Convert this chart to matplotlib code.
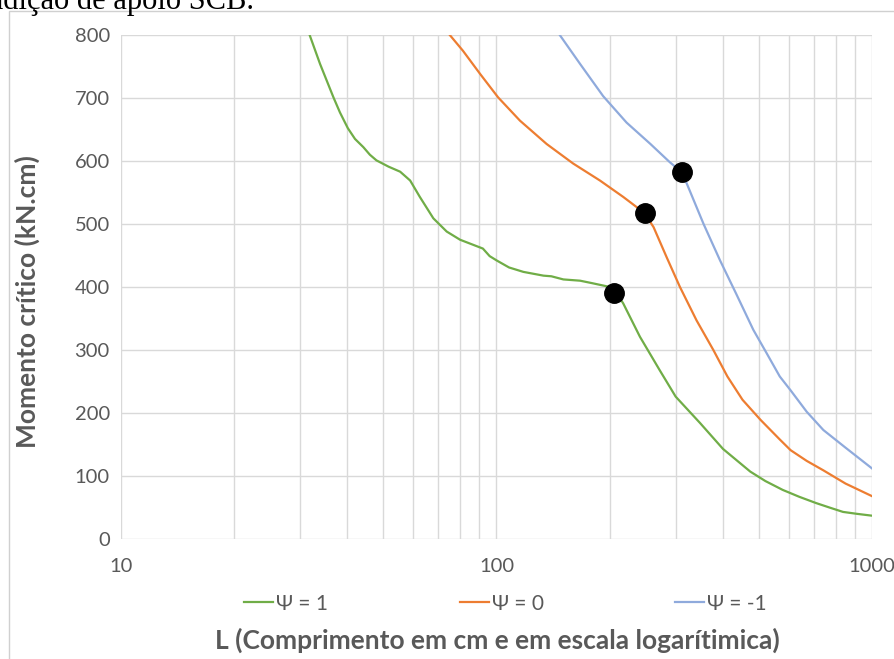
import matplotlib
matplotlib.use('Agg')
import matplotlib.pyplot as plt
from matplotlib.patches import Rectangle

plt.rcParams['font.family'] = ['Lato', 'DejaVu Sans']

# curves: span L (cm) and critical moment (kN.cm)
L_psi1 = [31.8, 33.9, 36.8, 38.3, 40.2, 42.0, 44.2, 46.0, 47.9, 51.6, 55.4, 58.9, 62.5, 67.9, 73.7,
          80.0, 88.4, 92, 95.9, 100.2, 108, 117.9, 133.4, 140, 150.7, 167, 180, 197, 206,
          217.5, 241, 272, 300, 348.5, 401, 474, 520, 578, 640, 710, 770, 837, 910, 1000]
M_psi1 = [800, 754, 701, 677, 652, 635, 622, 610, 601, 591, 583, 569, 543, 509, 488,
          475, 465, 461, 449, 442, 431, 424, 418, 417, 412, 410, 406, 401, 396,
          374, 321, 268, 226, 184, 143, 107, 92, 78, 67, 57, 50, 43, 40, 37]

L_psi0 = [75.1, 81.4, 90.5, 101, 115.5, 136, 160, 188.6, 217.5, 236, 248,
          262, 284, 308, 341, 378, 412, 452, 505, 568, 607, 670, 742, 850, 1000]
M_psi0 = [800, 775, 738, 701, 664, 627, 596, 569, 543, 527, 517,
          495, 447, 400, 347, 300, 258, 221, 189, 158, 141, 124, 109, 88, 68]

L_psi_m1 = [147.4, 167, 192.3, 222, 257, 289.5, 312, 327, 356, 394, 435, 483, 524,
            568, 607, 670, 742, 850, 1000]
M_psi_m1 = [800, 754, 703, 661, 627, 598, 582, 553, 500, 442, 389, 332, 295,
            258, 236, 202, 173, 145, 112]

# critical points
crit_L = [206, 248, 312]
crit_M = [391, 518, 582]

series_names = ['\u03a8 = 1', '\u03a8 = 0', '\u03a8 = -1']
colors = ['#70AD47', '#ED7D31', '#8FAADC']

fig = plt.figure(figsize=(8.94, 6.59), dpi=100)
ax = fig.add_axes([0.1353, 0.1821, 0.8401, 0.7648])

ax.plot(L_psi1, M_psi1, color=colors[0], lw=1.6, label=series_names[0])
ax.plot(L_psi0, M_psi0, color=colors[1], lw=1.6, label=series_names[1])
ax.plot(L_psi_m1, M_psi_m1, color=colors[2], lw=1.6, label=series_names[2])
ax.plot(crit_L, crit_M, 'o', color='black', ms=14, ls='none', zorder=5)

ax.set_xscale('log')
ax.set_xlim(10, 1000)
ax.set_ylim(0, 800)
ax.set_yticks(range(0, 801, 100))
ax.set_xticks([10, 100, 1000])
ax.set_xticklabels(['10', '100', '1000'])
ax.grid(True, which='major', color='#d9d9d9', lw=1.0)
ax.grid(True, which='minor', axis='x', color='#d9d9d9', lw=1.0)
ax.set_axisbelow(True)
for s in ax.spines.values():
    s.set_visible(False)
ax.tick_params(which='both', length=0, labelsize=14.5, colors='#595959', pad=8)
ax.tick_params(axis='x', pad=14)

ax.set_ylabel('Momento crítico (kN.cm)', fontsize=19, fontweight='bold', color='#595959')
ax.yaxis.label.set_va('center')
ax.yaxis.set_label_coords(-0.124, 0.471)
fig.text(0.5565, 0.029, 'L (Comprimento em cm e em escala logarítimica)', fontsize=19,
         fontweight='bold', color='#595959', ha='center', va='center')

leg = ax.legend(loc='center', bbox_to_anchor=(0.512, -0.128), ncol=3, frameon=False,
                fontsize=15, handlelength=1.4, handletextpad=0.15, columnspacing=6.3)
for t in leg.get_texts():
    t.set_color('#595959')

# chart frame and caption above it
fig.patches.append(Rectangle((0.010, -0.01), 1.0, 0.993, transform=fig.transFigure,
                             fill=False, edgecolor='#d0d0d0', lw=1.0))
fig.text(-0.0134, 0.9863, 'ndição de apoio SCB.', fontsize=22, family='Liberation Serif',
         color='black', ha='left', va='baseline')

fig.savefig('out.png', dpi=100)
